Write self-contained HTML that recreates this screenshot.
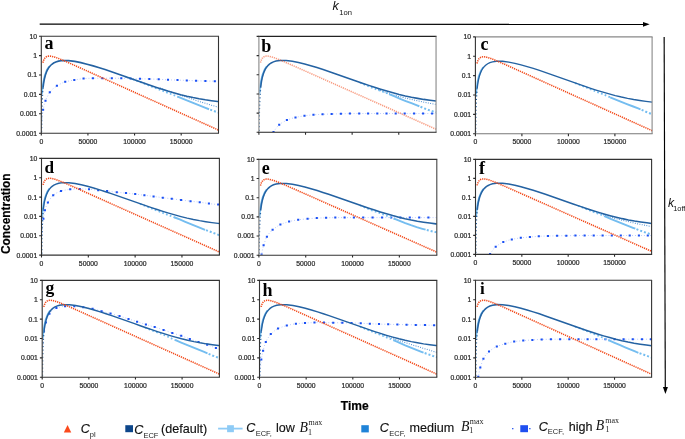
<!DOCTYPE html>
<html><head><meta charset="utf-8"><style>html,body{margin:0;padding:0;background:#fff;overflow:hidden;}svg{display:block;will-change:transform;}</style></head>
<body>
<svg width="685" height="439" viewBox="0 0 685 439">
<style>
.tl { font-family: "Liberation Sans", sans-serif; font-size: 6.8px; fill: #2b2b2b; stroke: #2b2b2b; stroke-width: 0.22px; }
.pl { font-family: "Liberation Serif", serif; font-weight: bold; font-size: 18px; fill: #000; }
.ax { font-family: "Liberation Sans", sans-serif; font-weight: bold; font-size: 11.5px; fill: #000; stroke: #000; stroke-width: 0.2px; }
.lg { font-family: "Liberation Sans", sans-serif; font-size: 12.6px; fill: #111; stroke:#111; stroke-width:0.15px; }
.lgs { font-family: "Liberation Sans", sans-serif; font-size: 7.5px; fill: #222; }
.lgB { font-family: "Liberation Serif", serif; font-style: italic; font-size: 13.8px; fill: #111; }
.lgsup { font-family: "Liberation Serif", serif; font-size: 8px; fill: #222; }
</style>
<rect width="685" height="439" fill="#fff"/>
<path d="M39.7 24.15L644 24.35" stroke="#000" stroke-width="1.15"/>
<path d="M643 22.0L649.7 24.35L643 26.7Z" fill="#000"/>
<text x="332.6" y="10.2" style="font-family:'Liberation Sans',sans-serif;font-style:italic;font-size:12.5px" fill="#111">k</text>
<text x="339.2" y="14.8" style="font-family:'Liberation Sans',sans-serif;font-size:7.6px" fill="#111">1on</text>
<path d="M664.15 36.9L665.3 388" stroke="#000" stroke-width="1.15"/>
<path d="M662.9 387L665.4 394L667.9 387Z" fill="#000"/>
<text x="668.0" y="206.7" style="font-family:'Liberation Sans',sans-serif;font-style:italic;font-size:12.2px" fill="#111">k</text>
<text x="673.2" y="210.5" style="font-family:'Liberation Sans',sans-serif;font-size:7.4px" fill="#111">1off</text>
<text class="ax" transform="translate(9.6 213.7) rotate(-90)" text-anchor="middle" style="font-size:11.9px">Concentration</text>
<text class="ax" x="354.7" y="409.7" text-anchor="middle" style="font-size:12px">Time</text>
<clipPath id="clip_a"><rect x="41.60" y="35.20" width="178.40" height="97.60"/></clipPath>
<g clip-path="url(#clip_a)">
<path d="M41.70 128.00L41.95 121.99L42.37 115.99L43.07 110.03L44.38 104.15L46.36 98.48L49.22 93.13L53.16 88.66L58.02 85.10L63.45 82.38L69.46 80.83L75.42 79.80L81.35 78.82L87.59 78.36L93.60 78.20L99.61 78.20L105.62 78.20L111.63 78.20L117.64 78.28L123.65 78.39L129.65 78.48L135.66 78.66L141.67 78.84L147.68 78.96L153.68 79.12L159.69 79.34L165.69 79.69L171.69 79.93L177.70 80.11L183.71 80.29L189.71 80.53L195.72 80.79L201.73 80.93L207.73 81.05L213.74 81.18L219.00 81.29" fill="none" stroke="#1a50f5" stroke-width="0.85" stroke-dasharray="0.85 2.1" opacity="0.4"/>
<path d="M42.05 108.80h2.1v2.0h-2.1zM44.45 99.70h2.1v2.0h-2.1zM48.75 91.30h2.1v2.0h-2.1zM55.85 84.80h2.1v2.0h-2.1zM64.15 80.80h2.1v2.0h-2.1zM73.25 79.00h2.1v2.0h-2.1zM82.55 77.60h2.1v2.0h-2.1zM91.85 77.20h2.1v2.0h-2.1zM101.25 77.20h2.1v2.0h-2.1zM110.75 77.20h2.1v2.0h-2.1zM120.25 77.35h2.1v2.0h-2.1zM129.55 77.50h2.1v2.0h-2.1zM138.95 77.80h2.1v2.0h-2.1zM148.25 78.00h2.1v2.0h-2.1zM157.65 78.30h2.1v2.0h-2.1zM166.95 78.80h2.1v2.0h-2.1zM176.45 79.10h2.1v2.0h-2.1zM185.75 79.40h2.1v2.0h-2.1zM195.05 79.80h2.1v2.0h-2.1zM204.35 80.00h2.1v2.0h-2.1zM213.75 80.20h2.1v2.0h-2.1z" fill="#1a50f5"/>
<path d="M160.00 87.90L165.67 89.99L171.35 92.03L177.05 94.03L182.76 95.99L188.48 97.92L194.22 99.80L199.97 101.65L205.73 103.45L211.51 105.22L217.29 106.95L218.50 107.30" fill="none" stroke="#2f7ccc" stroke-width="1.05" stroke-dasharray="0.9 1.45" opacity="0.9"/>
<path d="M41.96 93.91L42.51 87.80L43.33 81.84L44.69 75.68L46.87 69.96L49.14 66.44" fill="none" stroke="#74bdf0" stroke-width="1.7"/>
<path d="M125.00 76.64L130.72 78.54L136.40 80.55L142.04 82.68L147.62 84.97L153.21 87.21L158.82 89.40L164.45 91.57L170.08 93.70L175.70 95.88L178.27 96.91" fill="none" stroke="#74bdf0" stroke-width="1.8" stroke-dasharray="1.7 2.3"/>
<path d="M177.57 96.63L183.15 98.89L188.73 101.17L194.32 103.43L199.91 105.70L205.51 107.92L209.03 109.26" fill="none" stroke="#74bdf0" stroke-width="1.9"/>
<path d="M208.32 109.00L213.99 111.04L218.50 112.60" fill="none" stroke="#74bdf0" stroke-width="2.0" stroke-dasharray="2 2" stroke-dashoffset="2"/>
<path d="M41.41 139.02L41.45 139.02L41.50 132.52L41.55 125.02L41.64 118.13L41.75 112.09L41.91 105.94L42.17 99.73L42.53 93.70L43.07 87.67" fill="none" stroke="#2462a2" stroke-width="1.45" stroke-dasharray="1.2 2.4"/>
<path d="M43.07 87.67L43.51 84.18L43.95 81.41L44.39 79.13L44.83 77.22L45.71 74.14L46.59 71.77L47.47 69.87L48.35 68.32L49.23 67.04L50.55 65.48L51.87 64.27L53.62 63.04L55.82 61.96L58.46 61.13L62.42 60.55L68.57 60.61L74.73 61.40L80.88 62.63L87.04 64.15L93.19 65.89L99.35 67.77L105.07 69.61L110.78 71.53L116.50 73.50L122.21 75.50L127.93 77.53L133.64 79.56L139.36 81.59L145.08 83.60L150.79 85.57L156.51 87.49L162.22 89.34L168.38 91.25L174.53 93.03L180.69 94.68L186.84 96.18L193.00 97.53L199.15 98.72L205.31 99.77L211.47 100.68L217.62 101.47L218.50 101.57" fill="none" stroke="#2462a2" stroke-width="1.60"/>
<path d="M42.89 62.75L43.47 60.70L44.06 59.33L44.65 58.36L45.23 57.65L45.82 57.14L46.41 56.76L47.00 56.49L47.58 56.30L48.76 56.11L49.93 56.11L51.70 56.34L55.22 57.28L61.09 59.50L66.97 62.00L72.84 64.60L78.71 67.23L84.59 69.87L90.46 72.51L96.33 75.15L102.21 77.79L108.08 80.43L113.95 83.07L119.83 85.71L125.70 88.35L131.57 91.00L137.45 93.64L143.32 96.28L149.19 98.92L155.07 101.56L160.94 104.20L166.81 106.84L172.69 109.49L178.56 112.13L184.43 114.77L190.31 117.41L196.18 120.05L202.05 122.69L207.93 125.33L213.80 127.98L218.50 130.09" fill="none" stroke="#f24a1a" stroke-width="1.55" stroke-dasharray="1.25 0.9" opacity="1"/>
</g>
<path d="M40.80 36.20H219.00" stroke="#333" stroke-width="1.1"/>
<path d="M218.50 36.20V133.20" stroke="#333" stroke-width="1.1"/>
<path d="M40.80 133.20H219.00" stroke="#333" stroke-width="1.1"/>
<path d="M41.30 36.20V133.20" stroke="#333" stroke-width="1.1"/>
<path d="M39.00 36.20H41.30M39.00 55.60H41.30M39.00 75.00H41.30M39.00 94.40H41.30M39.00 113.80H41.30M39.00 133.20H41.30M41.30 133.20V135.60M87.93 133.20V135.60M134.56 133.20V135.60M181.19 133.20V135.60" stroke="#2a2a2a" stroke-width="1.1" fill="none"/>
<text x="37.00" y="38.65" class="tl" text-anchor="end">10</text>
<text x="37.00" y="58.05" class="tl" text-anchor="end">1</text>
<text x="37.00" y="77.45" class="tl" text-anchor="end">0.1</text>
<text x="37.00" y="96.85" class="tl" text-anchor="end">0.01</text>
<text x="37.00" y="116.25" class="tl" text-anchor="end">0.001</text>
<text x="37.00" y="135.65" class="tl" text-anchor="end">0.0001</text>
<text x="41.30" y="143.60" class="tl" text-anchor="middle">0</text>
<text x="87.93" y="143.60" class="tl" text-anchor="middle">50000</text>
<text x="134.56" y="143.60" class="tl" text-anchor="middle">100000</text>
<text x="181.19" y="143.60" class="tl" text-anchor="middle">150000</text>
<text x="44.50" y="48.80" class="pl" style="font-size:18.0px">a</text>
<clipPath id="clip_b"><rect x="259.20" y="35.40" width="178.35" height="96.50"/></clipPath>
<g clip-path="url(#clip_b)">
<path d="M273.50 131.90L277.06 126.91L281.70 122.91L287.05 120.04L292.75 118.09L298.61 116.75L304.56 115.79L310.53 115.06L316.52 114.60L322.53 114.30L328.54 114.09L334.56 113.93L340.57 113.81L346.58 113.66L352.60 113.56L358.61 113.50L364.62 113.50L370.64 113.50L376.65 113.50L382.67 113.50L388.68 113.50L394.70 113.50L400.71 113.50L406.73 113.50L412.74 113.50L418.76 113.50L424.77 113.50L430.79 113.50L436.55 113.50" fill="none" stroke="#1a50f5" stroke-width="0.85" stroke-dasharray="0.85 2.1" opacity="0.4"/>
<path d="M272.45 130.90h2.1v2.0h-2.1zM278.15 123.80h2.1v2.0h-2.1zM285.85 119.10h2.1v2.0h-2.1zM294.45 116.40h2.1v2.0h-2.1zM303.45 114.80h2.1v2.0h-2.1zM312.45 113.80h2.1v2.0h-2.1zM321.55 113.30h2.1v2.0h-2.1zM330.65 113.00h2.1v2.0h-2.1zM339.85 112.80h2.1v2.0h-2.1zM348.85 112.60h2.1v2.0h-2.1zM358.15 112.50h2.1v2.0h-2.1zM367.05 112.50h2.1v2.0h-2.1zM376.25 112.50h2.1v2.0h-2.1zM385.45 112.50h2.1v2.0h-2.1zM394.65 112.50h2.1v2.0h-2.1zM403.65 112.50h2.1v2.0h-2.1zM413.05 112.50h2.1v2.0h-2.1zM422.05 112.50h2.1v2.0h-2.1zM431.05 112.50h2.1v2.0h-2.1z" fill="#1a50f5"/>
<path d="M378.00 89.60L383.67 91.74L389.39 93.69L395.19 95.40L401.03 96.97L406.91 98.42L412.81 99.78L418.71 101.07L424.64 102.29L430.58 103.43L436.05 104.40" fill="none" stroke="#2f7ccc" stroke-width="1.05" stroke-dasharray="0.9 1.45" opacity="0.9"/>
<path d="M259.56 93.46L260.11 87.42L261.02 81.01L262.38 75.12L264.65 69.43L266.74 66.30" fill="none" stroke="#74bdf0" stroke-width="1.7"/>
<path d="M360.00 82.49L365.48 84.99L371.03 87.31L376.66 89.42L382.33 91.47L387.92 93.68L389.77 94.46" fill="none" stroke="#74bdf0" stroke-width="1.8" stroke-dasharray="1.7 2.3"/>
<path d="M389.08 94.17L394.64 96.48L400.20 98.77L405.79 101.01L411.41 103.16L417.03 105.31L419.36 106.25" fill="none" stroke="#74bdf0" stroke-width="1.9"/>
<path d="M418.66 105.96L424.20 108.32L429.84 110.41L435.57 112.25L436.05 112.40" fill="none" stroke="#74bdf0" stroke-width="2.0" stroke-dasharray="2 2" stroke-dashoffset="2"/>
<path d="M259.01 138.05L259.05 138.05L259.10 131.62L259.15 124.21L259.24 117.41L259.36 110.82L259.54 104.53L259.81 98.39L260.20 92.33L260.67 87.29" fill="none" stroke="#2462a2" stroke-width="1.45" stroke-dasharray="1.2 2.4"/>
<path d="M260.67 87.29L261.11 83.84L261.55 81.10L261.99 78.85L262.43 76.95L263.31 73.91L264.19 71.56L265.07 69.69L265.95 68.16L266.83 66.89L268.14 65.35L269.46 64.15L271.22 62.94L273.42 61.87L276.06 61.05L280.01 60.47L286.17 60.54L292.32 61.31L298.47 62.53L304.63 64.04L310.78 65.75L316.93 67.61L323.09 69.58L328.80 71.48L334.52 73.43L340.23 75.41L345.94 77.41L351.66 79.42L357.37 81.43L363.09 83.41L368.80 85.36L374.51 87.25L380.67 89.22L386.82 91.08L392.97 92.83L399.13 94.44L405.28 95.90L411.44 97.21L417.59 98.37L423.74 99.39L429.90 100.27L436.05 101.03" fill="none" stroke="#2462a2" stroke-width="1.55"/>
<path d="M260.49 62.65L261.07 60.63L261.66 59.27L262.25 58.31L262.83 57.61L263.42 57.10L264.01 56.73L264.60 56.46L265.18 56.27L266.36 56.09L267.53 56.09L269.29 56.31L272.82 57.24L278.69 59.43L284.56 61.91L290.43 64.48L296.30 67.08L302.17 69.68L308.05 72.29L313.92 74.91L319.79 77.52L325.66 80.13L331.53 82.74L337.40 85.35L343.28 87.96L349.15 90.57L355.02 93.19L360.89 95.80L366.76 98.41L372.64 101.02L378.51 103.63L384.38 106.24L390.25 108.85L396.12 111.47L401.99 114.08L407.87 116.69L413.74 119.30L419.61 121.91L425.48 124.52L431.35 127.14L436.05 129.22" fill="none" stroke="#f24a1a" stroke-width="1.55" stroke-dasharray="1.25 0.9" opacity="0.55"/>
</g>
<path d="M258.40 36.40H436.55" stroke="#222" stroke-width="1.1"/>
<path d="M436.05 36.40V132.30" stroke="#888" stroke-width="1.1"/>
<path d="M258.40 132.30H436.55" stroke="#222" stroke-width="1.1"/>
<path d="M258.90 36.40V132.30" stroke="#888" stroke-width="1.1"/>
<path d="M256.60 36.40H258.90M256.60 55.58H258.90M256.60 74.76H258.90M256.60 93.94H258.90M256.60 113.12H258.90M256.60 132.30H258.90M258.90 132.30V134.70M305.52 132.30V134.70M352.14 132.30V134.70M398.76 132.30V134.70" stroke="#2a2a2a" stroke-width="1.1" fill="none"/>
<text x="261.30" y="51.80" class="pl" style="font-size:18.0px">b</text>
<clipPath id="clip_c"><rect x="475.70" y="35.90" width="177.90" height="97.50"/></clipPath>
<g clip-path="url(#clip_c)">


<path d="M476.06 94.55L476.60 88.45L477.42 82.50L478.78 76.34L480.95 70.63L483.22 67.11" fill="none" stroke="#74bdf0" stroke-width="1.7"/>
<path d="M575.00 83.04L580.63 85.20L586.23 87.44L591.79 89.77L597.37 92.05L603.00 94.22L608.55 96.57L610.87 97.55" fill="none" stroke="#74bdf0" stroke-width="1.8" stroke-dasharray="1.7 2.3"/>
<path d="M610.17 97.26L615.73 99.60L621.30 101.91L626.90 104.14L632.55 106.26L638.19 108.39L640.52 109.33" fill="none" stroke="#74bdf0" stroke-width="1.9"/>
<path d="M639.82 109.05L645.34 111.47L650.92 113.76L652.10 114.20" fill="none" stroke="#74bdf0" stroke-width="2.0" stroke-dasharray="2 2" stroke-dashoffset="2"/>
<path d="M475.51 139.61L475.55 139.61L475.60 133.12L475.65 125.63L475.73 118.75L475.85 112.71L476.01 106.57L476.26 100.36L476.62 94.34L477.17 88.32" fill="none" stroke="#2462a2" stroke-width="1.45" stroke-dasharray="1.2 2.4"/>
<path d="M477.17 88.32L477.61 84.83L478.04 82.06L478.48 79.79L478.92 77.87L479.80 74.80L480.67 72.43L481.55 70.54L482.43 68.99L483.31 67.71L484.62 66.15L485.94 64.94L487.69 63.71L489.88 62.63L492.51 61.81L496.46 61.22L502.60 61.29L508.73 62.07L514.87 63.30L521.01 64.82L527.15 66.55L533.29 68.43L539.42 70.42L545.12 72.34L550.82 74.31L556.52 76.32L562.22 78.34L567.92 80.37L573.62 82.40L579.32 84.40L585.02 86.37L590.72 88.28L596.86 90.27L603.00 92.15L609.13 93.91L615.27 95.54L621.41 97.02L627.55 98.35L633.69 99.52L639.82 100.54L645.96 101.43L652.10 102.20" fill="none" stroke="#2462a2" stroke-width="1.35"/>
<path d="M476.98 63.42L477.57 61.38L478.15 60.01L478.74 59.04L479.32 58.33L479.91 57.82L480.50 57.44L481.08 57.17L481.67 56.98L482.84 56.79L484.01 56.79L485.77 57.02L489.28 57.96L495.14 60.17L500.99 62.68L506.85 65.27L512.71 67.90L518.56 70.53L524.42 73.17L530.28 75.81L536.13 78.45L541.99 81.08L547.85 83.72L553.71 86.36L559.56 89.00L565.42 91.64L571.28 94.28L577.13 96.92L582.99 99.56L588.85 102.19L594.70 104.83L600.56 107.47L606.42 110.11L612.27 112.75L618.13 115.39L623.99 118.03L629.84 120.67L635.70 123.30L641.56 125.94L647.41 128.58L652.10 130.69" fill="none" stroke="#f24a1a" stroke-width="1.55" stroke-dasharray="1.25 0.9" opacity="1"/>
</g>
<path d="M474.90 36.90H652.60" stroke="#888" stroke-width="1.1"/>
<path d="M652.10 36.90V133.80" stroke="#888" stroke-width="1.1"/>
<path d="M474.90 133.80H652.60" stroke="#777" stroke-width="1.1"/>
<path d="M475.40 36.90V133.80" stroke="#333" stroke-width="1.1"/>
<path d="M473.10 36.90H475.40M473.10 56.28H475.40M473.10 75.66H475.40M473.10 95.04H475.40M473.10 114.42H475.40M473.10 133.80H475.40M475.40 133.80V136.20M521.90 133.80V136.20M568.40 133.80V136.20M614.90 133.80V136.20" stroke="#2a2a2a" stroke-width="1.1" fill="none"/>
<text x="471.10" y="39.35" class="tl" text-anchor="end">10</text>
<text x="471.10" y="58.73" class="tl" text-anchor="end">1</text>
<text x="471.10" y="78.11" class="tl" text-anchor="end">0.1</text>
<text x="471.10" y="97.49" class="tl" text-anchor="end">0.01</text>
<text x="471.10" y="116.87" class="tl" text-anchor="end">0.001</text>
<text x="471.10" y="136.25" class="tl" text-anchor="end">0.0001</text>
<text x="475.40" y="144.20" class="tl" text-anchor="middle">0</text>
<text x="521.90" y="144.20" class="tl" text-anchor="middle">50000</text>
<text x="568.40" y="144.20" class="tl" text-anchor="middle">100000</text>
<text x="614.90" y="144.20" class="tl" text-anchor="middle">150000</text>
<text x="480.40" y="49.50" class="pl" style="font-size:18.0px">c</text>
<clipPath id="clip_d"><rect x="41.80" y="157.40" width="179.10" height="97.30"/></clipPath>
<g clip-path="url(#clip_d)">
<path d="M42.00 236.00L42.32 230.00L42.80 224.00L43.49 218.03L44.47 212.08L46.16 206.32L48.77 200.91L52.03 196.32L55.85 193.31L60.49 191.15L66.57 189.72L72.56 189.18L78.58 189.01L84.59 189.10L90.59 189.40L96.57 190.03L102.56 190.58L108.54 191.17L114.49 192.02L120.47 192.63L126.46 193.14L132.44 193.78L138.40 194.51L144.36 195.30L150.33 196.00L156.29 196.77L162.24 197.63L168.21 198.36L174.17 199.10L180.14 199.88L186.10 200.65L192.06 201.38L198.04 202.00L203.99 202.85L209.94 203.73L215.91 204.36L219.90 204.78" fill="none" stroke="#1a50f5" stroke-width="0.85" stroke-dasharray="0.85 2.1" opacity="0.4"/>
<path d="M42.35 217.70h2.1v2.0h-2.1zM43.85 209.20h2.1v2.0h-2.1zM46.85 201.50h2.1v2.0h-2.1zM52.15 194.20h2.1v2.0h-2.1zM59.95 190.00h2.1v2.0h-2.1zM69.15 188.30h2.1v2.0h-2.1zM78.75 188.00h2.1v2.0h-2.1zM87.95 188.30h2.1v2.0h-2.1zM97.15 189.20h2.1v2.0h-2.1zM106.05 190.00h2.1v2.0h-2.1zM115.75 191.30h2.1v2.0h-2.1zM124.95 192.10h2.1v2.0h-2.1zM134.15 193.10h2.1v2.0h-2.1zM143.35 194.30h2.1v2.0h-2.1zM152.55 195.40h2.1v2.0h-2.1zM161.75 196.70h2.1v2.0h-2.1zM170.75 197.80h2.1v2.0h-2.1zM180.05 199.00h2.1v2.0h-2.1zM189.45 200.20h2.1v2.0h-2.1zM198.65 201.20h2.1v2.0h-2.1zM207.85 202.60h2.1v2.0h-2.1zM217.15 203.60h2.1v2.0h-2.1z" fill="#1a50f5"/>

<path d="M42.17 215.93L42.71 209.84L43.63 203.38L45.00 197.44L47.28 191.71L49.38 188.55" fill="none" stroke="#74bdf0" stroke-width="1.7"/>
<path d="M140.00 203.82L145.57 206.11L151.16 208.37L156.77 210.57L162.39 212.75L168.00 214.96L173.64 217.08L174.82 217.52" fill="none" stroke="#74bdf0" stroke-width="1.8" stroke-dasharray="1.7 2.3"/>
<path d="M174.11 217.25L179.72 219.46L185.29 221.76L190.87 224.05L196.44 226.33L202.03 228.59L205.07 229.78" fill="none" stroke="#74bdf0" stroke-width="1.9"/>
<path d="M204.14 229.42L209.78 231.54L215.41 233.67L219.40 235.20" fill="none" stroke="#74bdf0" stroke-width="2.0" stroke-dasharray="2 2" stroke-dashoffset="2"/>
<path d="M41.61 260.90L41.65 260.90L41.70 254.42L41.75 246.94L41.84 240.08L41.95 234.06L42.12 227.93L42.37 221.73L42.73 215.72L43.28 209.71" fill="none" stroke="#2462a2" stroke-width="1.45" stroke-dasharray="1.2 2.4"/>
<path d="M43.28 209.71L43.72 206.23L44.16 203.47L44.60 201.20L45.04 199.29L45.93 196.22L46.81 193.86L47.69 191.97L48.58 190.42L49.46 189.14L50.78 187.59L52.11 186.38L53.87 185.16L56.08 184.08L58.73 183.26L62.70 182.67L68.88 182.74L75.06 183.52L81.24 184.75L87.42 186.27L93.60 187.99L99.78 189.87L105.52 191.71L111.26 193.62L116.99 195.58L122.73 197.58L128.47 199.60L134.21 201.63L139.95 203.65L145.69 205.65L151.42 207.62L157.16 209.53L162.90 211.38L168.64 213.14L174.82 214.93L181.00 216.58L187.18 218.09L193.36 219.45L199.54 220.65L205.72 221.70L211.90 222.62L218.08 223.41L219.40 223.57" fill="none" stroke="#2462a2" stroke-width="1.42"/>
<path d="M43.09 184.87L43.68 182.83L44.27 181.46L44.86 180.49L45.45 179.79L46.04 179.27L46.63 178.90L47.22 178.62L47.81 178.44L48.99 178.25L50.17 178.25L51.94 178.48L55.47 179.42L61.37 181.62L67.27 184.12L73.16 186.71L79.06 189.33L84.96 191.96L90.85 194.59L96.75 197.23L102.65 199.86L108.54 202.49L114.44 205.13L120.34 207.76L126.23 210.39L132.13 213.03L138.03 215.66L143.92 218.29L149.82 220.93L155.72 223.56L161.61 226.19L167.51 228.83L173.41 231.46L179.30 234.09L185.20 236.73L191.10 239.36L196.99 241.99L202.89 244.63L208.79 247.26L214.68 249.89L219.40 252.00" fill="none" stroke="#f24a1a" stroke-width="1.55" stroke-dasharray="1.25 0.9" opacity="1"/>
</g>
<path d="M41.00 158.40H219.90" stroke="#333" stroke-width="1.1"/>
<path d="M219.40 158.40V255.10" stroke="#333" stroke-width="1.1"/>
<path d="M41.00 255.10H219.90" stroke="#333" stroke-width="1.1"/>
<path d="M41.50 158.40V255.10" stroke="#333" stroke-width="1.1"/>
<path d="M39.20 158.40H41.50M39.20 177.74H41.50M39.20 197.08H41.50M39.20 216.42H41.50M39.20 235.76H41.50M39.20 255.10H41.50M41.50 255.10V257.50M88.32 255.10V257.50M135.13 255.10V257.50M181.95 255.10V257.50" stroke="#2a2a2a" stroke-width="1.1" fill="none"/>
<text x="37.20" y="160.85" class="tl" text-anchor="end">10</text>
<text x="37.20" y="180.19" class="tl" text-anchor="end">1</text>
<text x="37.20" y="199.53" class="tl" text-anchor="end">0.1</text>
<text x="37.20" y="218.87" class="tl" text-anchor="end">0.01</text>
<text x="37.20" y="238.21" class="tl" text-anchor="end">0.001</text>
<text x="37.20" y="257.55" class="tl" text-anchor="end">0.0001</text>
<text x="41.50" y="265.50" class="tl" text-anchor="middle">0</text>
<text x="88.32" y="265.50" class="tl" text-anchor="middle">50000</text>
<text x="135.13" y="265.50" class="tl" text-anchor="middle">100000</text>
<text x="181.95" y="265.50" class="tl" text-anchor="middle">150000</text>
<text x="44.40" y="173.30" class="pl" style="font-size:17.2px">d</text>
<clipPath id="clip_e"><rect x="259.20" y="158.40" width="179.10" height="96.40"/></clipPath>
<g clip-path="url(#clip_e)">
<path d="M260.30 262.00L261.29 256.07L262.43 250.17L263.95 244.10L266.05 238.42L269.00 233.54L273.17 229.20L278.16 225.76L283.82 223.15L289.58 221.38L295.48 220.21L301.43 219.40L307.41 218.82L313.40 218.31L319.40 218.00L325.41 217.82L331.41 217.65L337.42 217.60L343.43 217.60L349.43 217.60L355.44 217.60L361.45 217.60L367.46 217.60L373.47 217.60L379.47 217.60L385.48 217.60L391.49 217.60L397.50 217.60L403.51 217.60L409.51 217.60L415.52 217.60L421.53 217.60L427.54 217.60L433.55 217.60L437.30 217.60" fill="none" stroke="#1a50f5" stroke-width="0.85" stroke-dasharray="0.85 2.1" opacity="0.4"/>
<path d="M260.55 253.40h2.1v2.0h-2.1zM262.55 244.30h2.1v2.0h-2.1zM265.85 235.70h2.1v2.0h-2.1zM271.55 228.70h2.1v2.0h-2.1zM279.35 223.60h2.1v2.0h-2.1zM288.05 220.50h2.1v2.0h-2.1zM297.15 218.80h2.1v2.0h-2.1zM306.55 217.80h2.1v2.0h-2.1zM315.75 217.10h2.1v2.0h-2.1zM325.05 216.80h2.1v2.0h-2.1zM334.25 216.60h2.1v2.0h-2.1zM343.55 216.60h2.1v2.0h-2.1zM352.85 216.60h2.1v2.0h-2.1zM362.15 216.60h2.1v2.0h-2.1zM371.55 216.60h2.1v2.0h-2.1zM381.05 216.60h2.1v2.0h-2.1zM390.15 216.60h2.1v2.0h-2.1zM399.35 216.60h2.1v2.0h-2.1zM408.75 216.60h2.1v2.0h-2.1zM418.15 216.60h2.1v2.0h-2.1zM427.35 216.60h2.1v2.0h-2.1z" fill="#1a50f5"/>

<path d="M259.57 216.40L260.11 210.36L261.03 203.96L262.40 198.08L264.68 192.40L266.78 189.27" fill="none" stroke="#74bdf0" stroke-width="1.7"/>
<path d="M360.00 205.30L365.49 207.79L371.08 210.04L376.77 211.99L382.43 214.06L388.01 216.32L393.61 218.55L394.78 219.01" fill="none" stroke="#74bdf0" stroke-width="1.8" stroke-dasharray="1.7 2.3"/>
<path d="M394.07 218.73L399.67 220.97L405.28 223.18L410.94 225.22L416.66 227.09L422.44 228.82L425.58 229.70" fill="none" stroke="#74bdf0" stroke-width="1.9"/>
<path d="M424.85 229.50L430.68 231.02L436.55 232.35L436.80 232.40" fill="none" stroke="#74bdf0" stroke-width="2.0" stroke-dasharray="2 2" stroke-dashoffset="2"/>
<path d="M259.01 260.95L259.05 260.95L259.10 254.52L259.15 247.12L259.24 240.32L259.36 233.74L259.54 227.46L259.81 221.32L260.20 215.27L260.68 210.24" fill="none" stroke="#2462a2" stroke-width="1.45" stroke-dasharray="1.2 2.4"/>
<path d="M260.68 210.24L261.12 206.79L261.56 204.05L262.00 201.80L262.44 199.91L263.33 196.87L264.21 194.53L265.09 192.65L265.98 191.12L266.86 189.86L268.18 188.32L269.51 187.12L271.27 185.91L273.48 184.84L276.13 184.02L280.10 183.45L286.28 183.51L292.46 184.29L298.64 185.50L304.82 187.01L311.00 188.72L317.18 190.58L322.92 192.40L328.66 194.29L334.39 196.24L340.13 198.22L345.87 200.22L351.61 202.23L357.35 204.23L363.09 206.21L368.82 208.16L374.56 210.06L380.30 211.89L386.48 213.76L392.66 215.53L398.84 217.15L405.02 218.64L411.20 219.97L417.38 221.15L423.56 222.18L429.74 223.08L435.92 223.86L436.80 223.96" fill="none" stroke="#2462a2" stroke-width="1.55"/>
<path d="M260.49 185.62L261.08 183.60L261.67 182.25L262.26 181.29L262.85 180.59L263.44 180.08L264.03 179.70L264.62 179.44L265.21 179.25L266.39 179.07L267.57 179.07L269.34 179.29L272.87 180.22L278.77 182.41L284.67 184.88L290.56 187.45L296.46 190.05L302.36 192.65L308.25 195.26L314.15 197.86L320.05 200.47L325.94 203.08L331.84 205.69L337.74 208.30L343.63 210.91L349.53 213.52L355.43 216.13L361.32 218.74L367.22 221.34L373.12 223.95L379.01 226.56L384.91 229.17L390.81 231.78L396.70 234.39L402.60 237.00L408.50 239.61L414.39 242.21L420.29 244.82L426.19 247.43L432.08 250.04L436.80 252.13" fill="none" stroke="#f24a1a" stroke-width="1.55" stroke-dasharray="1.25 0.9" opacity="1"/>
</g>
<path d="M258.40 159.40H437.30" stroke="#333" stroke-width="1.1"/>
<path d="M436.80 159.40V255.20" stroke="#444" stroke-width="1.1"/>
<path d="M258.40 255.20H437.30" stroke="#333" stroke-width="1.1"/>
<path d="M258.90 159.40V255.20" stroke="#777" stroke-width="1.1"/>
<path d="M256.60 159.40H258.90M256.60 178.56H258.90M256.60 197.72H258.90M256.60 216.88H258.90M256.60 236.04H258.90M256.60 255.20H258.90M258.90 255.20V257.60M305.72 255.20V257.60M352.53 255.20V257.60M399.35 255.20V257.60" stroke="#2a2a2a" stroke-width="1.1" fill="none"/>
<text x="254.60" y="161.85" class="tl" text-anchor="end">10</text>
<text x="254.60" y="181.01" class="tl" text-anchor="end">1</text>
<text x="254.60" y="200.17" class="tl" text-anchor="end">0.1</text>
<text x="254.60" y="219.33" class="tl" text-anchor="end">0.01</text>
<text x="254.60" y="238.49" class="tl" text-anchor="end">0.001</text>
<text x="254.60" y="257.65" class="tl" text-anchor="end">0.0001</text>
<text x="258.90" y="265.60" class="tl" text-anchor="middle">0</text>
<text x="305.72" y="265.60" class="tl" text-anchor="middle">50000</text>
<text x="352.53" y="265.60" class="tl" text-anchor="middle">100000</text>
<text x="399.35" y="265.60" class="tl" text-anchor="middle">150000</text>
<text x="261.70" y="173.60" class="pl" style="font-size:18.0px">e</text>
<clipPath id="clip_f"><rect x="475.80" y="158.40" width="177.30" height="95.60"/></clipPath>
<g clip-path="url(#clip_f)">
<path d="M490.10 253.90L493.62 248.88L498.03 245.00L503.36 242.07L509.04 240.10L514.90 238.74L520.85 237.79L526.84 237.24L532.83 236.74L538.83 236.30L544.84 236.08L550.86 235.93L556.87 235.80L562.88 235.73L568.90 235.67L574.91 235.61L580.93 235.53L586.94 235.50L592.96 235.50L598.97 235.50L604.98 235.50L611.00 235.50L617.01 235.50L623.03 235.50L629.04 235.50L635.06 235.50L641.07 235.50L647.09 235.50L652.10 235.50" fill="none" stroke="#1a50f5" stroke-width="0.85" stroke-dasharray="0.85 2.1" opacity="0.4"/>
<path d="M489.05 252.90h2.1v2.0h-2.1zM494.65 245.80h2.1v2.0h-2.1zM502.25 241.10h2.1v2.0h-2.1zM510.75 238.40h2.1v2.0h-2.1zM519.75 236.80h2.1v2.0h-2.1zM528.85 236.00h2.1v2.0h-2.1zM537.75 235.30h2.1v2.0h-2.1zM546.90 235.00h2.1v2.0h-2.1zM556.05 234.80h2.1v2.0h-2.1zM565.25 234.70h2.1v2.0h-2.1zM574.35 234.60h2.1v2.0h-2.1zM583.55 234.50h2.1v2.0h-2.1zM592.65 234.50h2.1v2.0h-2.1zM601.55 234.50h2.1v2.0h-2.1zM610.75 234.50h2.1v2.0h-2.1zM619.75 234.50h2.1v2.0h-2.1zM628.65 234.50h2.1v2.0h-2.1zM637.85 234.50h2.1v2.0h-2.1zM646.75 234.50h2.1v2.0h-2.1z" fill="#1a50f5"/>
<path d="M590.00 209.50L595.55 211.92L601.16 214.13L606.85 216.06L612.63 217.75L618.47 219.29L624.33 220.73L630.20 222.12L636.08 223.45L641.98 224.71L647.89 225.90L651.60 226.60" fill="none" stroke="#2f7ccc" stroke-width="1.05" stroke-dasharray="0.9 1.45" opacity="0.9"/>
<path d="M476.15 215.92L476.70 209.94L477.60 203.59L479.05 197.46L481.39 191.80L483.29 189.02" fill="none" stroke="#74bdf0" stroke-width="1.7"/>
<path d="M578.00 205.75L583.61 207.96L589.20 210.18L594.79 212.44L600.44 214.53L605.77 216.76" fill="none" stroke="#74bdf0" stroke-width="1.8" stroke-dasharray="1.7 2.3"/>
<path d="M605.07 216.46L610.62 218.82L616.18 221.14L621.76 223.41L627.36 225.62L632.97 227.81L635.31 228.72" fill="none" stroke="#74bdf0" stroke-width="1.9"/>
<path d="M634.61 228.45L640.22 230.66L645.89 232.66L651.60 234.60" fill="none" stroke="#74bdf0" stroke-width="2.0" stroke-dasharray="2 2" stroke-dashoffset="2"/>
<path d="M475.61 260.10L475.65 260.10L475.69 253.73L475.75 246.39L475.83 239.65L475.96 233.12L476.14 226.90L476.40 220.80L476.79 214.80L477.26 209.81" fill="none" stroke="#2462a2" stroke-width="1.45" stroke-dasharray="1.2 2.4"/>
<path d="M477.26 209.81L477.70 206.39L478.13 203.68L478.57 201.45L479.01 199.57L479.88 196.56L480.76 194.23L481.63 192.38L482.50 190.86L483.38 189.60L484.69 188.08L486.00 186.89L487.75 185.69L489.93 184.63L492.55 183.82L496.49 183.24L502.60 183.31L508.72 184.08L514.84 185.28L520.95 186.78L527.07 188.47L533.19 190.32L539.31 192.27L545.42 194.29L551.10 196.23L556.78 198.20L562.46 200.18L568.14 202.17L573.82 204.16L579.50 206.12L585.62 208.19L591.74 210.20L597.86 212.13L603.97 213.95L610.09 215.65L616.21 217.21L622.33 218.63L628.44 219.90L634.56 221.02L640.68 221.99L646.79 222.84L651.60 223.42" fill="none" stroke="#2462a2" stroke-width="1.55"/>
<path d="M477.08 185.40L477.66 183.40L478.24 182.05L478.83 181.10L479.41 180.41L479.99 179.91L480.58 179.54L481.16 179.27L481.75 179.09L482.91 178.90L484.08 178.90L485.83 179.13L489.33 180.05L495.17 182.22L501.01 184.67L506.84 187.22L512.68 189.79L518.52 192.37L524.35 194.96L530.19 197.54L536.03 200.13L541.87 202.72L547.70 205.30L553.54 207.89L559.38 210.48L565.21 213.07L571.05 215.65L576.89 218.24L582.72 220.83L588.56 223.41L594.40 226.00L600.23 228.59L606.07 231.17L611.91 233.76L617.75 236.35L623.58 238.94L629.42 241.52L635.26 244.11L641.09 246.70L646.93 249.28L651.60 251.35" fill="none" stroke="#f24a1a" stroke-width="1.55" stroke-dasharray="1.25 0.9" opacity="1"/>
</g>
<path d="M475.00 159.40H652.10" stroke="#333" stroke-width="1.1"/>
<path d="M651.60 159.40V254.40" stroke="#333" stroke-width="1.1"/>
<path d="M475.00 254.40H652.10" stroke="#333" stroke-width="1.1"/>
<path d="M475.50 159.40V254.40" stroke="#333" stroke-width="1.1"/>
<path d="M473.20 159.40H475.50M473.20 178.40H475.50M473.20 197.40H475.50M473.20 216.40H475.50M473.20 235.40H475.50M473.20 254.40H475.50M475.50 254.40V256.80M521.84 254.40V256.80M568.18 254.40V256.80M614.53 254.40V256.80" stroke="#2a2a2a" stroke-width="1.1" fill="none"/>
<text x="471.20" y="161.85" class="tl" text-anchor="end">10</text>
<text x="471.20" y="180.85" class="tl" text-anchor="end">1</text>
<text x="471.20" y="199.85" class="tl" text-anchor="end">0.1</text>
<text x="471.20" y="218.85" class="tl" text-anchor="end">0.01</text>
<text x="471.20" y="237.85" class="tl" text-anchor="end">0.001</text>
<text x="471.20" y="256.85" class="tl" text-anchor="end">0.0001</text>
<text x="475.50" y="264.80" class="tl" text-anchor="middle">0</text>
<text x="521.84" y="264.80" class="tl" text-anchor="middle">50000</text>
<text x="568.18" y="264.80" class="tl" text-anchor="middle">100000</text>
<text x="614.53" y="264.80" class="tl" text-anchor="middle">150000</text>
<text x="479.00" y="173.90" class="pl" style="font-size:18.0px">f</text>
<clipPath id="clip_g"><rect x="42.50" y="279.40" width="178.40" height="97.40"/></clipPath>
<g clip-path="url(#clip_g)">
<path d="M42.80 348.00L43.07 341.99L43.49 335.99L44.18 330.02L45.43 324.12L47.22 318.27L49.37 313.84L52.05 310.85L55.03 308.73L60.86 306.74L66.90 306.20L72.92 306.27L78.92 306.69L84.88 307.51L90.83 308.46L96.67 309.80L102.47 311.43L108.28 313.00L114.08 314.58L119.87 316.21L125.62 317.98L131.34 319.82L137.06 321.69L142.78 323.53L148.53 325.29L154.30 326.98L160.05 328.75L165.76 330.65L171.41 332.70L177.14 334.52L182.86 336.37L188.51 338.43L194.17 340.48L199.85 342.45L205.59 344.26L211.24 346.30L216.85 348.46L219.90 349.62" fill="none" stroke="#1a50f5" stroke-width="0.85" stroke-dasharray="0.85 2.1" opacity="0.4"/>
<path d="M42.95 330.30h2.1v2.0h-2.1zM44.85 321.40h2.1v2.0h-2.1zM48.35 312.80h2.1v2.0h-2.1zM55.35 307.10h2.1v2.0h-2.1zM64.05 305.20h2.1v2.0h-2.1zM73.25 305.30h2.1v2.0h-2.1zM82.25 306.30h2.1v2.0h-2.1zM91.55 307.80h2.1v2.0h-2.1zM100.55 310.20h2.1v2.0h-2.1zM109.45 312.60h2.1v2.0h-2.1zM118.45 315.10h2.1v2.0h-2.1zM127.45 317.90h2.1v2.0h-2.1zM136.05 320.70h2.1v2.0h-2.1zM144.85 323.50h2.1v2.0h-2.1zM153.65 326.10h2.1v2.0h-2.1zM162.55 328.90h2.1v2.0h-2.1zM171.25 332.00h2.1v2.0h-2.1zM180.15 334.80h2.1v2.0h-2.1zM188.75 337.90h2.1v2.0h-2.1zM197.45 341.00h2.1v2.0h-2.1zM206.15 343.80h2.1v2.0h-2.1zM214.85 347.10h2.1v2.0h-2.1z" fill="#1a50f5"/>

<path d="M42.86 337.99L43.41 331.90L44.23 325.95L45.59 319.80L47.77 314.09L50.04 310.58" fill="none" stroke="#74bdf0" stroke-width="1.7"/>
<path d="M145.00 327.51L150.57 329.84L156.19 332.01L161.88 334.04L167.39 336.46L172.85 339.05L176.32 340.53" fill="none" stroke="#74bdf0" stroke-width="1.8" stroke-dasharray="1.7 2.3"/>
<path d="M175.62 340.24L181.19 342.56L186.77 344.86L192.35 347.14L197.94 349.41L203.53 351.68L207.48 353.32" fill="none" stroke="#74bdf0" stroke-width="1.9"/>
<path d="M206.78 353.03L212.31 355.45L217.96 357.55L219.40 358.00" fill="none" stroke="#74bdf0" stroke-width="2.0" stroke-dasharray="2 2" stroke-dashoffset="2"/>
<path d="M42.31 383.01L42.35 383.01L42.40 376.52L42.45 369.03L42.54 362.17L42.65 356.13L42.81 350.00L43.07 343.80L43.43 337.78L43.97 331.77" fill="none" stroke="#2462a2" stroke-width="1.45" stroke-dasharray="1.2 2.4"/>
<path d="M43.97 331.77L44.41 328.28L44.85 325.52L45.29 323.24L45.73 321.33L46.61 318.26L47.49 315.89L48.37 314.00L49.25 312.46L50.13 311.17L51.45 309.62L52.77 308.41L54.52 307.19L56.72 306.11L59.36 305.28L63.32 304.70L69.47 304.76L75.63 305.55L81.78 306.77L87.94 308.30L94.09 310.02L100.25 311.90L105.97 313.74L111.68 315.66L117.40 317.62L123.11 319.62L128.83 321.64L134.54 323.67L140.26 325.70L145.98 327.70L151.69 329.67L157.41 331.59L163.12 333.43L169.28 335.33L175.43 337.11L181.59 338.76L187.74 340.26L193.90 341.60L200.05 342.79L206.21 343.84L212.37 344.75L218.52 345.53L219.40 345.64" fill="none" stroke="#2462a2" stroke-width="1.45"/>
<path d="M43.79 306.90L44.37 304.85L44.96 303.48L45.55 302.51L46.13 301.81L46.72 301.29L47.31 300.92L47.90 300.65L48.48 300.46L49.66 300.27L50.83 300.27L52.60 300.50L56.12 301.44L61.99 303.65L67.87 306.15L73.74 308.74L79.61 311.36L85.49 314.00L91.36 316.63L97.23 319.27L103.11 321.90L108.98 324.54L114.85 327.17L120.73 329.81L126.60 332.45L132.47 335.08L138.35 337.72L144.22 340.35L150.09 342.99L155.97 345.63L161.84 348.26L167.71 350.90L173.59 353.53L179.46 356.17L185.33 358.81L191.21 361.44L197.08 364.08L202.95 366.71L208.83 369.35L214.70 371.99L219.40 374.10" fill="none" stroke="#f24a1a" stroke-width="1.55" stroke-dasharray="1.25 0.9" opacity="1"/>
</g>
<path d="M41.70 280.40H219.90" stroke="#333" stroke-width="1.1"/>
<path d="M219.40 280.40V377.20" stroke="#333" stroke-width="1.1"/>
<path d="M41.70 377.20H219.90" stroke="#333" stroke-width="1.1"/>
<path d="M42.20 280.40V377.20" stroke="#333" stroke-width="1.1"/>
<path d="M39.90 280.40H42.20M39.90 299.76H42.20M39.90 319.12H42.20M39.90 338.48H42.20M39.90 357.84H42.20M39.90 377.20H42.20M42.20 377.20V379.60M88.83 377.20V379.60M135.46 377.20V379.60M182.09 377.20V379.60" stroke="#2a2a2a" stroke-width="1.1" fill="none"/>
<text x="37.90" y="282.85" class="tl" text-anchor="end">10</text>
<text x="37.90" y="302.21" class="tl" text-anchor="end">1</text>
<text x="37.90" y="321.57" class="tl" text-anchor="end">0.1</text>
<text x="37.90" y="340.93" class="tl" text-anchor="end">0.01</text>
<text x="37.90" y="360.29" class="tl" text-anchor="end">0.001</text>
<text x="37.90" y="379.65" class="tl" text-anchor="end">0.0001</text>
<text x="42.20" y="387.60" class="tl" text-anchor="middle">0</text>
<text x="88.83" y="387.60" class="tl" text-anchor="middle">50000</text>
<text x="135.46" y="387.60" class="tl" text-anchor="middle">100000</text>
<text x="182.09" y="387.60" class="tl" text-anchor="middle">150000</text>
<text x="45.60" y="293.40" class="pl" style="font-size:17.6px">g</text>
<clipPath id="clip_h"><rect x="259.80" y="279.40" width="178.50" height="97.40"/></clipPath>
<g clip-path="url(#clip_h)">
<path d="M259.90 375.00L260.36 369.01L260.90 363.01L261.70 357.06L262.98 351.18L264.55 345.34L266.92 339.59L270.36 334.59L274.81 330.55L280.27 327.58L286.04 325.70L291.89 324.33L297.84 323.50L303.84 323.06L309.85 322.73L315.86 322.60L321.87 322.60L327.88 322.63L333.89 322.71L339.90 322.77L345.91 322.87L351.92 323.01L357.93 323.20L363.94 323.43L369.94 323.71L375.95 323.99L381.96 324.17L387.97 324.29L393.98 324.43L399.99 324.56L406.00 324.69L412.01 324.82L418.02 324.95L424.03 325.08L430.04 325.21L436.05 325.34L437.30 325.37" fill="none" stroke="#1a50f5" stroke-width="0.85" stroke-dasharray="0.85 2.1" opacity="0.4"/>
<path d="M260.25 358.60h2.1v2.0h-2.1zM262.05 349.70h2.1v2.0h-2.1zM264.75 340.90h2.1v2.0h-2.1zM269.75 333.10h2.1v2.0h-2.1zM276.95 327.60h2.1v2.0h-2.1zM285.75 324.50h2.1v2.0h-2.1zM294.85 322.70h2.1v2.0h-2.1zM303.95 322.00h2.1v2.0h-2.1zM313.45 321.60h2.1v2.0h-2.1zM322.95 321.60h2.1v2.0h-2.1zM332.15 321.70h2.1v2.0h-2.1zM341.25 321.80h2.1v2.0h-2.1zM350.45 322.00h2.1v2.0h-2.1zM359.65 322.30h2.1v2.0h-2.1zM368.75 322.70h2.1v2.0h-2.1zM377.95 323.10h2.1v2.0h-2.1zM387.15 323.30h2.1v2.0h-2.1zM396.35 323.50h2.1v2.0h-2.1zM405.55 323.70h2.1v2.0h-2.1zM414.75 323.90h2.1v2.0h-2.1zM423.95 324.10h2.1v2.0h-2.1zM433.05 324.30h2.1v2.0h-2.1z" fill="#1a50f5"/>
<path d="M380.00 333.70L385.62 335.89L391.28 337.99L396.97 339.97L402.70 341.85L408.46 343.66L414.22 345.44L419.98 347.24L425.74 349.03L431.51 350.79L436.80 352.40" fill="none" stroke="#2f7ccc" stroke-width="1.05" stroke-dasharray="0.9 1.45" opacity="0.9"/>
<path d="M260.16 337.99L260.71 331.90L261.53 325.95L262.89 319.80L265.07 314.09L267.35 310.58" fill="none" stroke="#74bdf0" stroke-width="1.7"/>
<path d="M360.00 326.69L365.57 329.01L371.16 331.26L376.79 333.44L382.39 335.69L387.97 337.97L393.57 340.22L394.50 340.61" fill="none" stroke="#74bdf0" stroke-width="1.8" stroke-dasharray="1.7 2.3"/>
<path d="M393.57 340.22L399.10 342.64L404.59 345.13L410.15 347.48L415.75 349.72L421.39 351.87L423.51 352.65" fill="none" stroke="#74bdf0" stroke-width="1.9"/>
<path d="M422.80 352.39L428.49 354.40L434.19 356.38L436.80 357.30" fill="none" stroke="#74bdf0" stroke-width="2.0" stroke-dasharray="2 2" stroke-dashoffset="2"/>
<path d="M259.61 383.01L259.65 383.01L259.70 376.52L259.75 369.03L259.84 362.17L259.95 356.13L260.11 350.00L260.37 343.80L260.73 337.78L261.27 331.77" fill="none" stroke="#2462a2" stroke-width="1.45" stroke-dasharray="1.2 2.4"/>
<path d="M261.27 331.77L261.71 328.28L262.15 325.52L262.59 323.24L263.03 321.33L263.91 318.26L264.79 315.89L265.67 314.00L266.55 312.46L267.43 311.17L268.75 309.62L270.07 308.41L271.83 307.19L274.03 306.11L276.67 305.28L280.63 304.70L286.79 304.76L292.95 305.55L299.11 306.77L305.26 308.30L311.42 310.02L317.58 311.90L323.30 313.74L329.02 315.66L334.74 317.62L340.46 319.62L346.18 321.64L351.90 323.67L357.61 325.70L363.33 327.70L369.05 329.67L374.77 331.59L380.49 333.43L386.65 335.33L392.81 337.11L398.97 338.76L405.13 340.26L411.28 341.60L417.44 342.79L423.60 343.84L429.76 344.75L435.92 345.53L436.80 345.64" fill="none" stroke="#2462a2" stroke-width="1.42"/>
<path d="M261.09 306.90L261.67 304.85L262.26 303.48L262.85 302.51L263.44 301.81L264.02 301.29L264.61 300.92L265.20 300.65L265.79 300.46L266.96 300.27L268.14 300.27L269.90 300.50L273.43 301.44L279.30 303.65L285.18 306.15L291.06 308.74L296.93 311.36L302.81 314.00L308.69 316.63L314.56 319.27L320.44 321.90L326.32 324.54L332.19 327.17L338.07 329.81L343.95 332.45L349.82 335.08L355.70 337.72L361.58 340.35L367.45 342.99L373.33 345.63L379.21 348.26L385.08 350.90L390.96 353.53L396.84 356.17L402.72 358.81L408.59 361.44L414.47 364.08L420.35 366.71L426.22 369.35L432.10 371.99L436.80 374.10" fill="none" stroke="#f24a1a" stroke-width="1.55" stroke-dasharray="1.25 0.9" opacity="1"/>
</g>
<path d="M259.00 280.40H437.30" stroke="#333" stroke-width="1.1"/>
<path d="M436.80 280.40V377.20" stroke="#333" stroke-width="1.1"/>
<path d="M259.00 377.20H437.30" stroke="#333" stroke-width="1.1"/>
<path d="M259.50 280.40V377.20" stroke="#333" stroke-width="1.1"/>
<path d="M257.20 280.40H259.50M257.20 299.76H259.50M257.20 319.12H259.50M257.20 338.48H259.50M257.20 357.84H259.50M257.20 377.20H259.50M259.50 377.20V379.60M306.16 377.20V379.60M352.82 377.20V379.60M399.47 377.20V379.60" stroke="#2a2a2a" stroke-width="1.1" fill="none"/>
<text x="255.20" y="282.85" class="tl" text-anchor="end">10</text>
<text x="255.20" y="302.21" class="tl" text-anchor="end">1</text>
<text x="255.20" y="321.57" class="tl" text-anchor="end">0.1</text>
<text x="255.20" y="340.93" class="tl" text-anchor="end">0.01</text>
<text x="255.20" y="360.29" class="tl" text-anchor="end">0.001</text>
<text x="255.20" y="379.65" class="tl" text-anchor="end">0.0001</text>
<text x="259.50" y="387.60" class="tl" text-anchor="middle">0</text>
<text x="306.16" y="387.60" class="tl" text-anchor="middle">50000</text>
<text x="352.82" y="387.60" class="tl" text-anchor="middle">100000</text>
<text x="399.47" y="387.60" class="tl" text-anchor="middle">150000</text>
<text x="262.40" y="295.60" class="pl" style="font-size:18.0px">h</text>
<clipPath id="clip_i"><rect x="475.80" y="279.30" width="177.30" height="97.60"/></clipPath>
<g clip-path="url(#clip_i)">
<path d="M477.00 384.00L478.03 378.08L479.21 372.17L480.65 366.34L482.59 360.60L485.49 355.37L489.53 350.94L494.57 347.58L500.32 345.17L506.12 343.47L511.96 342.00L518.14 341.10L524.14 340.53L530.13 340.05L536.13 339.65L542.14 339.39L548.15 339.33L554.16 339.26L560.17 339.20L566.18 339.20L572.19 339.20L578.21 339.20L584.22 339.20L590.23 339.20L596.24 339.20L602.25 339.20L608.26 339.20L614.28 339.20L620.29 339.20L626.30 339.20L632.31 339.20L638.32 339.20L644.33 339.20L650.35 339.20L652.10 339.20" fill="none" stroke="#1a50f5" stroke-width="0.85" stroke-dasharray="0.85 2.1" opacity="0.4"/>
<path d="M477.25 375.70h2.1v2.0h-2.1zM479.25 366.60h2.1v2.0h-2.1zM482.35 357.80h2.1v2.0h-2.1zM487.95 350.40h2.1v2.0h-2.1zM495.75 345.50h2.1v2.0h-2.1zM504.25 342.70h2.1v2.0h-2.1zM513.15 340.60h2.1v2.0h-2.1zM522.25 339.60h2.1v2.0h-2.1zM531.35 338.90h2.1v2.0h-2.1zM540.65 338.40h2.1v2.0h-2.1zM549.85 338.30h2.1v2.0h-2.1zM559.05 338.20h2.1v2.0h-2.1zM568.25 338.20h2.1v2.0h-2.1zM577.45 338.20h2.1v2.0h-2.1zM586.55 338.20h2.1v2.0h-2.1zM595.35 338.20h2.1v2.0h-2.1zM604.35 338.20h2.1v2.0h-2.1zM613.55 338.20h2.1v2.0h-2.1zM622.55 338.20h2.1v2.0h-2.1zM631.75 338.20h2.1v2.0h-2.1zM640.95 338.20h2.1v2.0h-2.1zM649.85 338.20h2.1v2.0h-2.1z" fill="#1a50f5"/>

<path d="M476.15 338.01L476.70 331.90L477.51 325.94L478.87 319.78L481.03 314.06L483.29 310.54" fill="none" stroke="#74bdf0" stroke-width="1.7"/>
<path d="M575.00 326.57L580.67 328.64L586.29 330.81L591.86 333.13L597.45 335.40L603.02 337.69L608.51 340.18L609.43 340.59" fill="none" stroke="#74bdf0" stroke-width="1.8" stroke-dasharray="1.7 2.3"/>
<path d="M608.51 340.18L614.05 342.59L619.60 344.94L625.15 347.29L630.70 349.68L636.26 351.99L638.37 352.80" fill="none" stroke="#74bdf0" stroke-width="1.9"/>
<path d="M637.67 352.54L643.35 354.54L649.02 356.60L651.60 357.60" fill="none" stroke="#74bdf0" stroke-width="2.0" stroke-dasharray="2 2" stroke-dashoffset="2"/>
<path d="M475.61 383.12L475.65 383.12L475.69 376.62L475.75 369.12L475.83 362.23L475.94 356.19L476.11 350.04L476.36 343.83L476.72 337.80L477.26 331.77" fill="none" stroke="#2462a2" stroke-width="1.45" stroke-dasharray="1.2 2.4"/>
<path d="M477.26 331.77L477.70 328.28L478.13 325.51L478.57 323.23L479.01 321.32L479.88 318.24L480.76 315.87L481.63 313.97L482.50 312.42L483.38 311.14L484.69 309.58L486.00 308.37L487.75 307.14L489.93 306.06L492.55 305.23L496.49 304.65L502.60 304.71L508.72 305.50L514.84 306.73L520.95 308.25L527.07 309.99L533.19 311.87L539.31 313.86L545.42 315.93L551.10 317.90L556.78 319.91L562.46 321.94L568.14 323.97L573.82 326.00L579.50 328.00L585.19 329.97L591.30 332.03L597.42 334.00L603.54 335.87L609.65 337.61L615.77 339.22L621.89 340.68L628.01 341.99L634.12 343.14L640.24 344.14L646.36 345.02L651.60 345.67" fill="none" stroke="#2462a2" stroke-width="1.55"/>
<path d="M477.08 306.85L477.66 304.80L478.24 303.43L478.83 302.46L479.41 301.75L479.99 301.24L480.58 300.86L481.16 300.59L481.75 300.40L482.91 300.21L484.08 300.21L485.83 300.44L489.33 301.38L495.17 303.60L501.01 306.10L506.84 308.70L512.68 311.33L518.52 313.97L524.35 316.61L530.19 319.25L536.03 321.89L541.87 324.53L547.70 327.17L553.54 329.81L559.38 332.45L565.21 335.10L571.05 337.74L576.89 340.38L582.72 343.02L588.56 345.66L594.40 348.30L600.23 350.94L606.07 353.59L611.91 356.23L617.75 358.87L623.58 361.51L629.42 364.15L635.26 366.79L641.09 369.43L646.93 372.08L651.60 374.19" fill="none" stroke="#f24a1a" stroke-width="1.55" stroke-dasharray="1.25 0.9" opacity="1"/>
</g>
<path d="M475.00 280.30H652.10" stroke="#333" stroke-width="1.1"/>
<path d="M651.60 280.30V377.30" stroke="#333" stroke-width="1.1"/>
<path d="M475.00 377.30H652.10" stroke="#333" stroke-width="1.1"/>
<path d="M475.50 280.30V377.30" stroke="#333" stroke-width="1.1"/>
<path d="M473.20 280.30H475.50M473.20 299.70H475.50M473.20 319.10H475.50M473.20 338.50H475.50M473.20 357.90H475.50M473.20 377.30H475.50M475.50 377.30V379.70M521.84 377.30V379.70M568.18 377.30V379.70M614.53 377.30V379.70" stroke="#2a2a2a" stroke-width="1.1" fill="none"/>
<text x="471.20" y="282.75" class="tl" text-anchor="end">10</text>
<text x="471.20" y="302.15" class="tl" text-anchor="end">1</text>
<text x="471.20" y="321.55" class="tl" text-anchor="end">0.1</text>
<text x="471.20" y="340.95" class="tl" text-anchor="end">0.01</text>
<text x="471.20" y="360.35" class="tl" text-anchor="end">0.001</text>
<text x="471.20" y="379.75" class="tl" text-anchor="end">0.0001</text>
<text x="475.50" y="387.70" class="tl" text-anchor="middle">0</text>
<text x="521.84" y="387.70" class="tl" text-anchor="middle">50000</text>
<text x="568.18" y="387.70" class="tl" text-anchor="middle">100000</text>
<text x="614.53" y="387.70" class="tl" text-anchor="middle">150000</text>
<text x="479.90" y="293.70" class="pl" style="font-size:17.0px">i</text>
<path d="M67.55 425L71.25 432.6H63.85Z" fill="#fb4a1c"/>
<text class="lg" transform="translate(80.70 433.30) scale(1 1.080)" font-style="italic">C</text>
<text class="lgs" transform="translate(89.80 437.30) scale(1 1.050)">pl</text>
<rect x="125.3" y="425.2" width="7.7" height="7.0" fill="#0d468a"/>
<text class="lg" transform="translate(134.20 433.60) scale(1 1.080)" font-style="italic">C</text>
<text class="lgs" transform="translate(143.40 437.50) scale(1 1.050)">ECF</text>
<text class="lg" transform="translate(161.00 433.40) scale(1 1.080)">(default)</text>
<path d="M218.1 428.6H242.6" stroke="#8ecbf6" stroke-width="1.8"/>
<rect x="227.1" y="425.2" width="6.8" height="7.0" fill="#8ecbf6"/>
<text class="lg" transform="translate(246.30 431.80) scale(1 1.080)" font-style="italic">C</text>
<text class="lgs" transform="translate(255.70 436.40) scale(1 1.050)">ECF,</text>
<text class="lg" transform="translate(275.90 431.80) scale(1 1.080)">low</text>
<text class="lgB" x="299.60" y="432.20">B</text>
<text class="lgsup" x="308.60" y="425.40">max</text>
<text class="lgsup" x="308.10" y="434.80">1</text>
<rect x="361.3" y="425.2" width="7.5" height="7.2" fill="#1f83d8"/>
<text class="lg" transform="translate(379.70 431.80) scale(1 1.080)" font-style="italic">C</text>
<text class="lgs" transform="translate(389.30 436.40) scale(1 1.050)">ECF,</text>
<text class="lg" transform="translate(409.50 432.00) scale(1 1.080)">medium</text>
<text class="lgB" x="461.00" y="431.10">B</text>
<text class="lgsup" x="469.80" y="424.10">max</text>
<text class="lgsup" x="469.30" y="433.40">1</text>
<rect x="512.1" y="428.0" width="1.3" height="1.3" fill="#1f4ff0"/>
<rect x="520.3" y="425.2" width="7.7" height="7.0" fill="#1f4ff0"/>
<rect x="529.2" y="428.0" width="1.3" height="1.3" fill="#1f4ff0"/>
<text class="lg" transform="translate(538.70 430.80) scale(1 1.080)" font-style="italic">C</text>
<text class="lgs" transform="translate(547.80 434.40) scale(1 1.050)">ECF,</text>
<text class="lg" transform="translate(568.70 430.90) scale(1 1.080)">high</text>
<text class="lgB" x="595.80" y="429.80">B</text>
<text class="lgsup" x="605.20" y="422.60">max</text>
<text class="lgsup" x="605.40" y="431.80">1</text>
</svg>
</body></html>
